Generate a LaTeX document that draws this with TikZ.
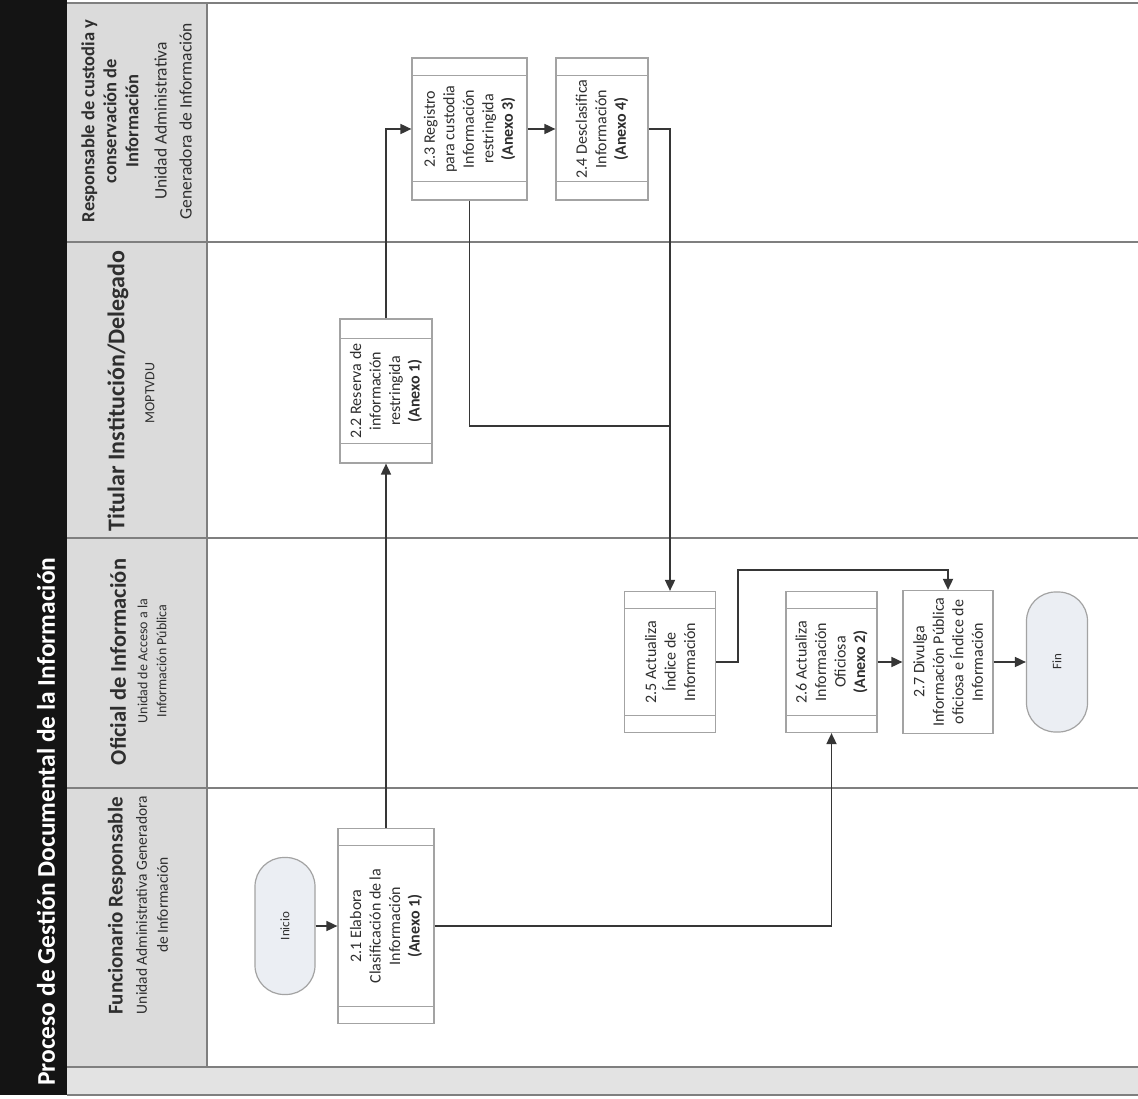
\documentclass[tikz,border=0pt]{standalone}
\usepackage{fontspec}
\setmainfont{Carlito}
\usetikzlibrary{arrows.meta,calc}
\definecolor{lanegray}{HTML}{DBDBDB}
\definecolor{stripgray}{HTML}{E3E3E3}
\definecolor{rulegray}{HTML}{7F7F7F}
\definecolor{boxgray}{HTML}{A3A3A3}
\definecolor{flowc}{HTML}{363636}
\definecolor{termfill}{HTML}{EBEEF3}
\definecolor{textc}{HTML}{2E2E2E}
\definecolor{bandc}{HTML}{141414}

\begin{document}
\begin{tikzpicture}[x=1pt,y=-1pt,
  lanerule/.style={draw=rulegray, line width=1.6pt},
  procbox/.style={draw=boxgray, line width=1.2pt, fill=white, inner sep=0pt,
    path picture={
      \draw[boxgray, line width=1pt]
        ([yshift=-#1]path picture bounding box.north west) -- ([yshift=-#1]path picture bounding box.north east)
        ([yshift=#1]path picture bounding box.south west) -- ([yshift=#1]path picture bounding box.south east);}},
  plainbox/.style={draw=boxgray, line width=1.2pt, fill=white, inner sep=0pt},
  term/.style={draw=boxgray, line width=1.2pt, fill=termfill, rounded corners=29pt, inner sep=0pt},
  lbl/.style={rotate=90, align=center, text=textc, inner sep=0pt,
    font=\fontsize{16}{19.5}\selectfont},
  termlbl/.style={rotate=90, text=textc, inner sep=0pt, font=\fontsize{13}{15}\selectfont},
  lanetitle/.style={rotate=90, align=center, text=textc, inner sep=0pt},
  flow/.style={draw=flowc, line width=1.7pt, -{Triangle[length=11pt,width=10pt]}},
  link/.style={draw=flowc, line width=1.7pt}
]
\useasboundingbox (0,0) rectangle (1138,1099);

% background, header column and bottom strip
\fill[white] (0,0) rectangle (1138,1099);
\fill[lanegray] (67,3) rectangle (207,1067);
\fill[stripgray] (67,1067) rectangle (1138,1095);
\fill[bandc] (0,0) rectangle (67,1095);

% lane borders
\draw[lanerule] (67,3) -- (1138,3);
\draw[lanerule] (67,242) -- (1138,242);
\draw[lanerule] (67,538) -- (1138,538);
\draw[lanerule] (67,788) -- (1138,788);
\draw[lanerule] (67,1067) -- (1138,1067);
\draw[lanerule] (67,1095) -- (1138,1095);
\draw[lanerule] (207,3) -- (207,1067);

% process title
\node[rotate=90, anchor=west, inner sep=0pt, text=white,
  font=\fontsize{25.5}{30}\selectfont\bfseries] (title) at (46,1086)
  {Proceso de Gestión Documental de la Información};

% lane headers
\node[lanetitle, font=\fontsize{18.5}{22}\selectfont\bfseries] (h1a) at (110,121)
  {Responsable de custodia y\\conservación de\\Información};
\node[lanetitle, font=\fontsize{17.5}{25}\selectfont] (h1b) at (173,121)
  {Unidad Administrativa\\Generadora de Información};

\node[lanetitle, font=\fontsize{24}{28}\selectfont\bfseries] (h2a) at (118,391)
  {Titular Institución/Delegado};
\node[lanetitle, font=\fontsize{14}{18}\selectfont] (h2b) at (150,393) {MOPTVDU};

\node[lanetitle, font=\fontsize{22.5}{26}\selectfont\bfseries] (h3a) at (118,662)
  {Oficial de Información};
\node[lanetitle, font=\fontsize{14}{19}\selectfont] (h3b) at (152,661)
  {Unidad de Acceso a la\\Información Pública};

\node[lanetitle, font=\fontsize{21}{25}\selectfont\bfseries] (h4a) at (117,906)
  {Funcionario Responsable};
\node[lanetitle, font=\fontsize{15.5}{21}\selectfont] (h4b) at (152,905)
  {Unidad Administrativa Generadora\\de Información};

% terminals
\node[term, minimum width=60pt, minimum height=137pt] (inicio) at (285,926) {};
\node[termlbl] at (inicio) {Inicio};
\node[term, minimum width=61pt, minimum height=140pt] (fin) at (1057,662) {};
\node[termlbl] at (fin) {Fin};

% activities
\node[procbox=17pt, minimum width=96pt, minimum height=195pt] (b21) at (386,926) {};
\node[lbl] at (b21) {2.1 Elabora\\Clasificación de la\\Información\\\bfseries (Anexo 1)};

\node[procbox=20pt, minimum width=92pt, minimum height=144pt] (b22) at (386,391) {};
\node[lbl] at (b22) {2.2 Reserva de\\información\\restringida\\\bfseries (Anexo 1)};

\node[procbox=18pt, minimum width=115pt, minimum height=142pt] (b23) at (469.5,129) {};
\node[lbl] at (b23) {2.3 Registro\\para custodia\\Información\\restringida\\\bfseries (Anexo 3)};

\node[procbox=18pt, minimum width=92pt, minimum height=142pt] (b24) at (602,129) {};
\node[lbl] at (b24) {2.4 Desclasifica\\Información\\\bfseries (Anexo 4)};

\node[procbox=17pt, minimum width=91pt, minimum height=141pt] (b25) at (670,662) {};
\node[lbl] at (b25) {2.5 Actualiza\\Índice de\\Información};

\node[procbox=17pt, minimum width=91pt, minimum height=141pt] (b26) at (831.5,662) {};
\node[lbl] at (b26) {2.6 Actualiza\\Información\\Oficiosa\\\bfseries (Anexo 2)};

\node[plainbox, minimum width=90pt, minimum height=143pt] (b27) at (948,662) {};
\node[lbl] at (b27) {2.7 Divulga\\Información Pública\\oficiosa e Índice de\\Información};

% junction points of the connectors
\coordinate (m1) at (670,426);
\coordinate (m2) at (738,570);

% connectors
\draw[flow] (inicio.east) -- (b21.west);
\draw[flow] (b21.north) -- (b22.south);
\draw[flow] (b22.north) |- (b23.west);
\draw[flow] (b23.east) -- (b24.west);
\draw[link] (b23.south) |- (m1);
\draw[flow] (b24.east) -| (b25.north);
\draw[flow] (b25.east) -| (m2) -| (b27.north);
\draw[flow] (b21.east) -| (b26.south);
\draw[flow] (b26.east) -- (b27.west);
\draw[flow] (b27.east) -- (fin.west);
\end{tikzpicture}
\end{document}
